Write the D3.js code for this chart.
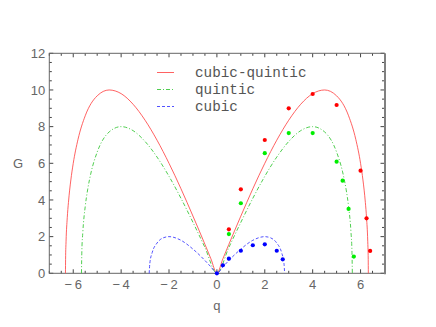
<!DOCTYPE html>
<html>
<head>
<meta charset="utf-8">
<script src="https://cdn.jsdelivr.net/npm/d3@7"></script>
<style>
  body { margin: 0; background: #fff; }
  svg { display: block; }
</style>
</head>
<body>
<div id="chart"></div>
<script>
// curve samples (q, G)
const cubicQuinticQ = [-6.325, -6.32, -6.3, -6.25, -6.2, -6.1, -6.0, -5.8, -5.5, -5.0, -4.5, -4.0, -3.5, -3.0, -2.5, -2.0, -1.5, -1.0, -0.5, -0.25, 0,
                       0.25, 0.5, 1.0, 1.5, 2.0, 2.5, 3.0, 3.5, 4.0, 4.5, 5.0, 5.5, 5.8, 6.0, 6.1, 6.2, 6.25, 6.3, 6.32, 6.325];
const cubicQuinticG = [0, 0.76, 1.75, 3.03, 3.87, 5.09, 6.0, 7.31, 8.59, 9.68, 10.0, 9.8, 9.22, 8.35, 7.26, 6.0, 4.61, 3.12, 1.58, 0.79, 0,
                       0.79, 1.58, 3.12, 4.61, 6.0, 7.26, 8.35, 9.22, 9.8, 10.0, 9.68, 8.59, 7.31, 6.0, 5.09, 3.87, 3.03, 1.75, 0.76, 0];

const quinticQ = [-5.657, -5.64, -5.6, -5.5, -5.4, -5.25, -5.0, -4.5, -4.0, -3.5, -3.0, -2.5, -2.0, -1.5, -1.0, -0.5, 0,
                  0.5, 1.0, 1.5, 2.0, 2.5, 3.0, 3.5, 4.0, 4.5, 5.0, 5.25, 5.4, 5.5, 5.6, 5.64, 5.657];
const quinticG = [0, 1.23, 2.24, 3.64, 4.55, 5.53, 6.61, 7.71, 8.0, 7.78, 7.19, 6.34, 5.29, 4.09, 2.78, 1.41, 0,
                  1.41, 2.78, 4.09, 5.29, 6.34, 7.19, 7.78, 8.0, 7.71, 6.61, 5.53, 4.55, 3.64, 2.24, 1.23, 0];

const cubicQ = [-2.828, -2.8, -2.7, -2.5, -2.25, -2.0, -1.5, -1.0, -0.5, -0.25, 0,
                0.25, 0.5, 1.0, 1.5, 2.0, 2.25, 2.5, 2.7, 2.8, 2.828];
const cubicG = [0, 0.56, 1.14, 1.65, 1.93, 2.0, 1.8, 1.32, 0.7, 0.35, 0,
                0.35, 0.7, 1.32, 1.8, 2.0, 1.93, 1.65, 1.14, 0.56, 0];

// measured points
const redQ = [0.5, 1.0, 2.0, 3.0, 4.0, 5.0, 6.0, 6.25, 6.4];
const redG = [2.4, 4.58, 7.27, 9.0, 9.78, 9.18, 5.6, 3.0, 1.22];
const greenQ = [0.5, 1.0, 2.0, 3.0, 4.0, 5.0, 5.25, 5.5, 5.72];
const greenG = [2.14, 3.82, 6.55, 7.65, 7.65, 6.09, 5.05, 3.51, 0.91];
const blueQ = [0, 0.25, 0.5, 1.0, 1.5, 2.0, 2.5, 2.75];
const blueG = [0, 0.44, 0.8, 1.23, 1.53, 1.58, 1.23, 0.76];

const legendLabels = ["cubic-quintic", "quintic", "cubic"];
const xTicks = [-6, -4, -2, 0, 2, 4, 6];
const yTicks = [0, 2, 4, 6, 8, 10, 12];

const width = 436, height = 327;
const margin = { top: 53.3, right: 51.5, bottom: 53.7, left: 49.3 };

const svg = d3.select("#chart").append("svg")
  .attr("width", width)
  .attr("height", height);

const x = d3.scaleLinear().domain([-7, 7]).range([margin.left, width - margin.right]);
const y = d3.scaleLinear().domain([0, 12]).range([height - margin.bottom, margin.top]);

const zip = (a, b) => a.map((d, i) => [d, b[i]]);

// minor + major ticks, inward, all four sides
const xMinor = d3.range(-7, 7.01, 0.5);
const yMinor = d3.range(0, 12.01, 0.5);
const tickG = svg.append("g").attr("stroke", "#444").attr("stroke-width", 1);
xMinor.forEach(v => {
  const len = (Math.abs(v % 2) < 1e-9) ? 4 : 2.5;
  tickG.append("line").attr("x1", x(v)).attr("x2", x(v)).attr("y1", y(0)).attr("y2", y(0) - len);
  tickG.append("line").attr("x1", x(v)).attr("x2", x(v)).attr("y1", y(12)).attr("y2", y(12) + len);
});
yMinor.forEach(v => {
  const len = (Math.abs(v % 2) < 1e-9) ? 4 : 2.5;
  tickG.append("line").attr("x1", x(-7)).attr("x2", x(-7) + len).attr("y1", y(v)).attr("y2", y(v));
  tickG.append("line").attr("x1", x(7)).attr("x2", x(7) - len).attr("y1", y(v)).attr("y2", y(v));
});

// frame
svg.append("rect")
  .attr("x", x(-7)).attr("y", y(12))
  .attr("width", x(7) - x(-7)).attr("height", y(0) - y(12))
  .attr("fill", "none").attr("stroke", "#666").attr("stroke-width", 1);
svg.append("line")
  .attr("x1", x(7) + 0.5).attr("x2", x(7) + 0.5).attr("y1", y(12)).attr("y2", y(0) + 1)
  .attr("stroke", "#808080").attr("stroke-width", 2);

// tick labels
const fmt = d => d < 0 ? "\u2212\u2009" + Math.abs(d) : String(d);
svg.append("g").selectAll("text").data(xTicks).join("text")
  .attr("x", d => x(d)).attr("y", y(0) + 16)
  .attr("text-anchor", "middle")
  .style("font-family", "'Liberation Sans', sans-serif")
  .style("font-size", "13px").attr("fill", "#666")
  .text(fmt);
svg.append("g").selectAll("text").data(yTicks).join("text")
  .attr("x", x(-7) - 4).attr("y", d => y(d)).attr("dy", "0.36em")
  .attr("text-anchor", "end")
  .style("font-family", "'Liberation Sans', sans-serif")
  .style("font-size", "13px").attr("fill", "#666")
  .text(d => d);

// axis labels
svg.append("text").attr("x", 18).attr("y", y(6)).attr("dy", "0.36em")
  .attr("text-anchor", "middle")
  .style("font-family", "'Liberation Sans', sans-serif").style("font-size", "13px")
  .attr("fill", "#666").text("G");
svg.append("text").attr("x", x(0)).attr("y", 310)
  .attr("text-anchor", "middle")
  .style("font-family", "'Liberation Sans', sans-serif").style("font-size", "13px")
  .attr("fill", "#666").text("q");

// curves
const line = d3.line().x(d => x(d[0])).y(d => y(d[1])).curve(d3.curveMonotoneX);
const series = [
  { name: legendLabels[0], data: zip(cubicQuinticQ, cubicQuinticG), color: "#ff5050", dash: null },
  { name: legendLabels[1], data: zip(quinticQ, quinticG), color: "#3cc83c", dash: "4,2,1,2" },
  { name: legendLabels[2], data: zip(cubicQ, cubicG), color: "#4040ff", dash: "3,2" }
];
const plot = svg.append("g");
series.forEach(s => {
  plot.append("path")
    .attr("d", line(s.data))
    .attr("fill", "none")
    .attr("stroke", s.color)
    .attr("stroke-width", 0.9)
    .attr("stroke-dasharray", s.dash);
});

// points
const pts = [
  { data: zip(redQ, redG), color: "#ff0000" },
  { data: zip(greenQ, greenG), color: "#00ee00" },
  { data: zip(blueQ, blueG), color: "#0000ff" }
];
pts.forEach(p => {
  plot.append("g").selectAll("circle").data(p.data).join("circle")
    .attr("cx", d => x(d[0])).attr("cy", d => y(d[1]))
    .attr("r", 2.1).attr("fill", p.color);
});

// legend
const legend = svg.append("g");
series.forEach((s, i) => {
  const ly = 72.5 + i * 17;
  legend.append("line")
    .attr("x1", 157).attr("x2", 174).attr("y1", ly).attr("y2", ly)
    .attr("stroke", s.color).attr("stroke-width", 0.9)
    .attr("stroke-dasharray", s.dash);
  legend.append("text")
    .attr("x", 195).attr("y", ly).attr("dy", "0.32em")
    .style("font-family", "'Liberation Mono', 'DejaVu Sans Mono', monospace")
    .style("font-size", "14.3px").attr("fill", "#555")
    .text(s.name);
});
</script>
</body>
</html>
